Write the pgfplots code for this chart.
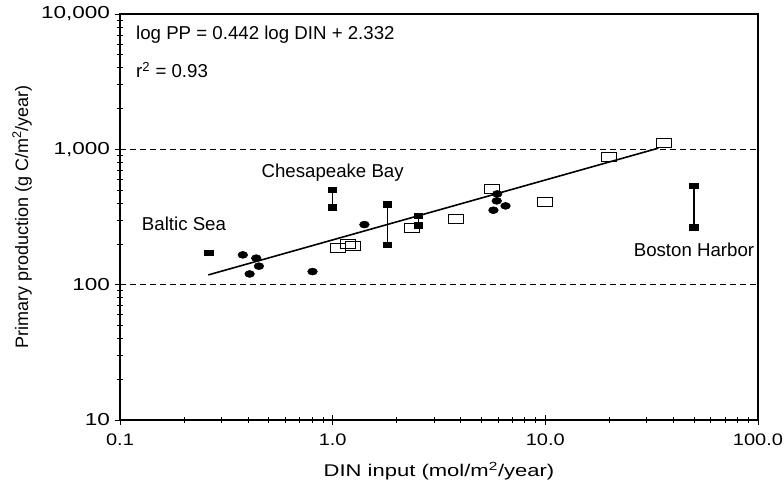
\documentclass[border=0pt]{standalone}
\usepackage{pgfplots}
\pgfplotsset{compat=1.18}
\usepackage{fontspec}
\setmainfont{Liberation Sans}
\newfontfamily\widefont{Liberation Sans}[FakeStretch=1.3]
\newfontfamily\xwidefont{Liberation Sans}[FakeStretch=1.2]
\begin{document}
\begin{tikzpicture}
\begin{axis}[
  xmode=log, ymode=log,
  scale only axis, width=478.5pt, height=304.5pt,
  xmin=0.1, xmax=100, ymin=10, ymax=10000,
  xtick={0.1,1,10,100}, xticklabels={0.1,1.0,10.0,100.0},
  ytick={10,100,1000,10000}, yticklabels={10,100,{1,000},{10,000}},
  minor xtick={0.2,0.3,0.4,0.5,0.6,0.7,0.8,0.9,2,3,4,5,6,7,8,9,20,30,40,50,60,70,80,90},
  minor ytick={20,30,40,50,60,70,80,90,200,300,400,500,600,700,800,900,2000,3000,4000,5000,6000,7000,8000,9000},
  tick align=center, xtick pos=bottom, ytick pos=left,
  major tick length=8pt, minor tick length=5pt,
  every tick/.style={black, line width=0.6pt},
  ymajorgrids,
  major grid style={black, dash pattern=on 4.5pt off 3pt, line width=0.6pt},
  axis line style={line width=0.8pt},
  /pgf/number format/assume math mode=true,
  yticklabel style={font=\widefont\fontsize{13pt}{15pt}\selectfont},
  xticklabel style={font=\xwidefont\fontsize{12.5pt}{15pt}\selectfont, yshift=-3pt},
  xlabel={DIN input (mol/m\textsuperscript{2}/year)},
  ylabel={Primary production (g C/m\textsuperscript{2}/year)},
  xlabel style={font=\widefont\fontsize{12.7pt}{15pt}\selectfont, at={(axis description cs:0.5,-0.125)}, anchor=center},
  ylabel style={font=\fontsize{13.5pt}{16pt}\selectfont, at={(axis description cs:-0.1536,0.5)}, anchor=center},
  ell/.style={only marks, mark=*, mark size=2.6pt, mark options={xscale=1.4, fill=black, draw=black}},
  osq/.style={only marks, mark=square, mark size=3.4pt, mark options={xscale=1.65, draw=black, line width=0.6pt}},
  bar/.style={black, line width=1pt, mark=square*, mark size=1.9pt, mark options={xscale=1.6, solid, fill=black}},
]
% regression line
\addplot[black, line width=1.2pt] coordinates {(0.26,118) (34,1020)};
% open squares
\addplot[osq] coordinates {
 (1.056,188) (1.18,200) (1.24,194) (2.37,262) (3.78,304)
 (5.58,507) (10.0,411) (19.9,883) (36.1,1121)};
% filled ellipses
\addplot[ell] coordinates {
 (0.378,166) (0.437,157) (0.450,137) (0.407,120) (0.804,125)
 (1.41,278) (5.94,468) (5.91,416) (6.50,382) (5.70,355)};
% Baltic single value
\addplot[only marks, mark=square*, mark size=1.9pt, mark options={xscale=1.7, fill=black}] coordinates {(0.261,171)};
% ranges
\addplot[bar] coordinates {(1.0,501) (1.0,371)};
\addplot[bar] coordinates {(1.81,391) (1.81,196)};
\addplot[bar] coordinates {(2.54,322) (2.54,274)};
\addplot[bar] coordinates {(50,536) (50,264)};
% labels
\node[font=\fontsize{14pt}{16pt}\selectfont] at (axis cs:1.0,669) {Chesapeake Bay};
\node[font=\fontsize{14pt}{16pt}\selectfont] at (axis cs:0.2,281) {Baltic Sea};
\node[font=\fontsize{14pt}{16pt}\selectfont] at (axis cs:50,180) {Boston Harbor};
\node[font=\fontsize{14pt}{16pt}\selectfont, anchor=west] at (rel axis cs:0.018,0.950) {log PP = 0.442 log DIN + 2.332};
\node[font=\fontsize{14pt}{16pt}\selectfont, anchor=west] at (rel axis cs:0.018,0.862) {r\textsuperscript{2} = 0.93};
\coordinate (sw) at (rel axis cs:0,0);
\end{axis}
\pgfresetboundingbox
\useasboundingbox (sw) ++(-90pt,-48.75pt) rectangle ++(588pt,363.75pt);
\end{tikzpicture}
\end{document}
